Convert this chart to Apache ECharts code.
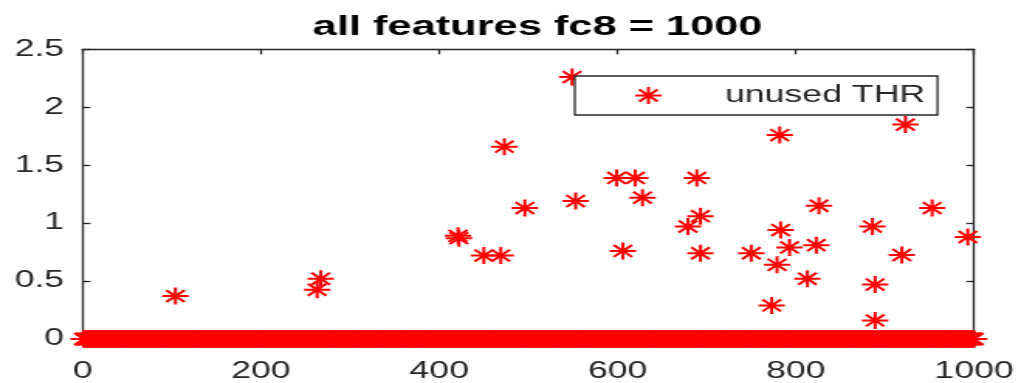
<!DOCTYPE html>
<html>
<head>
<meta charset="utf-8">
<title>all features fc8 = 1000</title>
<script src="https://cdn.jsdelivr.net/npm/echarts@6/dist/echarts.min.js"></script>
<style>
  html, body { margin: 0; padding: 0; background: #ffffff; overflow: hidden; }
  /* the figure is laid out narrow and widened horizontally, like a stretched MATLAB export */
  #chart {
    width: 659px;
    height: 383px;
    transform: scaleX(1.5493);
    transform-origin: 0 0;
  }
</style>
</head>
<body>
<div id="chart"></div>
<script>
// fc8 layer: 1000 features, threshold value per feature (0 where not set)
const featureCount = 1000;

// features with a non-zero unused threshold
const nonZeroFeatures = [104, 263, 267, 421, 422, 450, 469, 473, 496, 549,
  553, 599, 606, 620, 628, 679, 689, 693, 693, 750,
  773, 779, 782, 783, 793, 813, 823, 826, 886, 889,
  889, 919, 923, 953, 993];
const nonZeroValues = [0.37, 0.425, 0.52, 0.89, 0.87, 0.72, 0.72, 1.66, 1.13, 2.26,
  1.19, 1.39, 0.76, 1.39, 1.22, 0.97, 1.39, 1.06, 0.74, 0.74,
  0.29, 0.64, 1.76, 0.94, 0.79, 0.52, 0.81, 1.15, 0.97, 0.47,
  0.16, 0.725, 1.85, 1.13, 0.88];

const xTicks = [0, 200, 400, 600, 800, 1000];
const yTicks = [0, 0.5, 1, 1.5, 2, 2.5];

// unused threshold for every feature index 1..featureCount
const unusedThr = [];
for (let i = 1; i <= featureCount; i++) unusedThr.push([i, 0]);
nonZeroFeatures.forEach((f, k) => { unusedThr.push([f, nonZeroValues[k]]); });

// MATLAB-style '*' marker: plus and cross strokes
const STAR = 'path://M0,50L100,50M50,0L50,100M15,15L85,85M85,15L15,85';

const FONT = '"Liberation Sans", Arial, Helvetica, sans-serif';
const AXIS_COLOR = '#262626';
const RED = '#ff0000';

const chart = echarts.init(document.getElementById('chart'), null, { renderer: 'canvas' });

const axisCommon = {
  axisLine: { show: true, onZero: false, lineStyle: { color: AXIS_COLOR, width: 1.3 } },
  axisTick: { show: true, inside: true, length: 5, lineStyle: { color: AXIS_COLOR, width: 1.3 } },
  splitLine: { show: false },
  minorTick: { show: false }
};

const plainNumber = v => String(v);

chart.setOption({
  animation: false,
  backgroundColor: '#ffffff',
  title: {
    text: 'all features fc8 = 1000',
    left: 342,
    textAlign: 'center',
    top: 8,
    textStyle: { fontFamily: FONT, fontSize: 28, fontWeight: 'bold', color: '#000000' }
  },
  grid: { left: 53.4, right: 30.3, top: 49.3, bottom: 42.5, containLabel: false },
  legend: {
    left: 371,
    top: 76,
    orient: 'horizontal',
    backgroundColor: '#ffffff',
    borderColor: '#262626',
    borderWidth: 1.3,
    borderRadius: 0,
    padding: [8, 8, 8, 38],
    itemWidth: 17,
    itemHeight: 17,
    icon: STAR,
    itemStyle: { color: RED, borderColor: RED, borderWidth: 2, opacity: 1 },
    textStyle: { fontFamily: FONT, fontSize: 23, color: '#262626', padding: [0, 0, 0, 36] },
    data: ['unused THR']
  },
  xAxis: [
    Object.assign({
      type: 'value', position: 'bottom', min: xTicks[0], max: xTicks[xTicks.length - 1],
      interval: xTicks[1] - xTicks[0],
      axisLabel: { show: true, margin: 21, fontFamily: FONT, fontSize: 23, color: AXIS_COLOR, formatter: plainNumber }
    }, axisCommon),
    Object.assign({
      type: 'value', position: 'top', min: xTicks[0], max: xTicks[xTicks.length - 1],
      interval: xTicks[1] - xTicks[0],
      axisLabel: { show: false }
    }, axisCommon)
  ],
  yAxis: [
    Object.assign({
      type: 'value', position: 'left', min: yTicks[0], max: yTicks[yTicks.length - 1],
      interval: yTicks[1] - yTicks[0],
      axisLabel: { show: true, margin: 12, fontFamily: FONT, fontSize: 23, color: AXIS_COLOR, formatter: plainNumber }
    }, axisCommon),
    Object.assign({
      type: 'value', position: 'right', min: yTicks[0], max: yTicks[yTicks.length - 1],
      interval: yTicks[1] - yTicks[0],
      axisLabel: { show: false }
    }, axisCommon)
  ],
  series: [{
    name: 'unused THR',
    type: 'scatter',
    xAxisIndex: 0,
    yAxisIndex: 0,
    clip: false,
    symbol: STAR,
    symbolSize: 17,
    itemStyle: { color: RED, borderColor: RED, borderWidth: 2, opacity: 1 },
    emphasis: { disabled: true },
    data: unusedThr
  }]
});
</script>
</body>
</html>
